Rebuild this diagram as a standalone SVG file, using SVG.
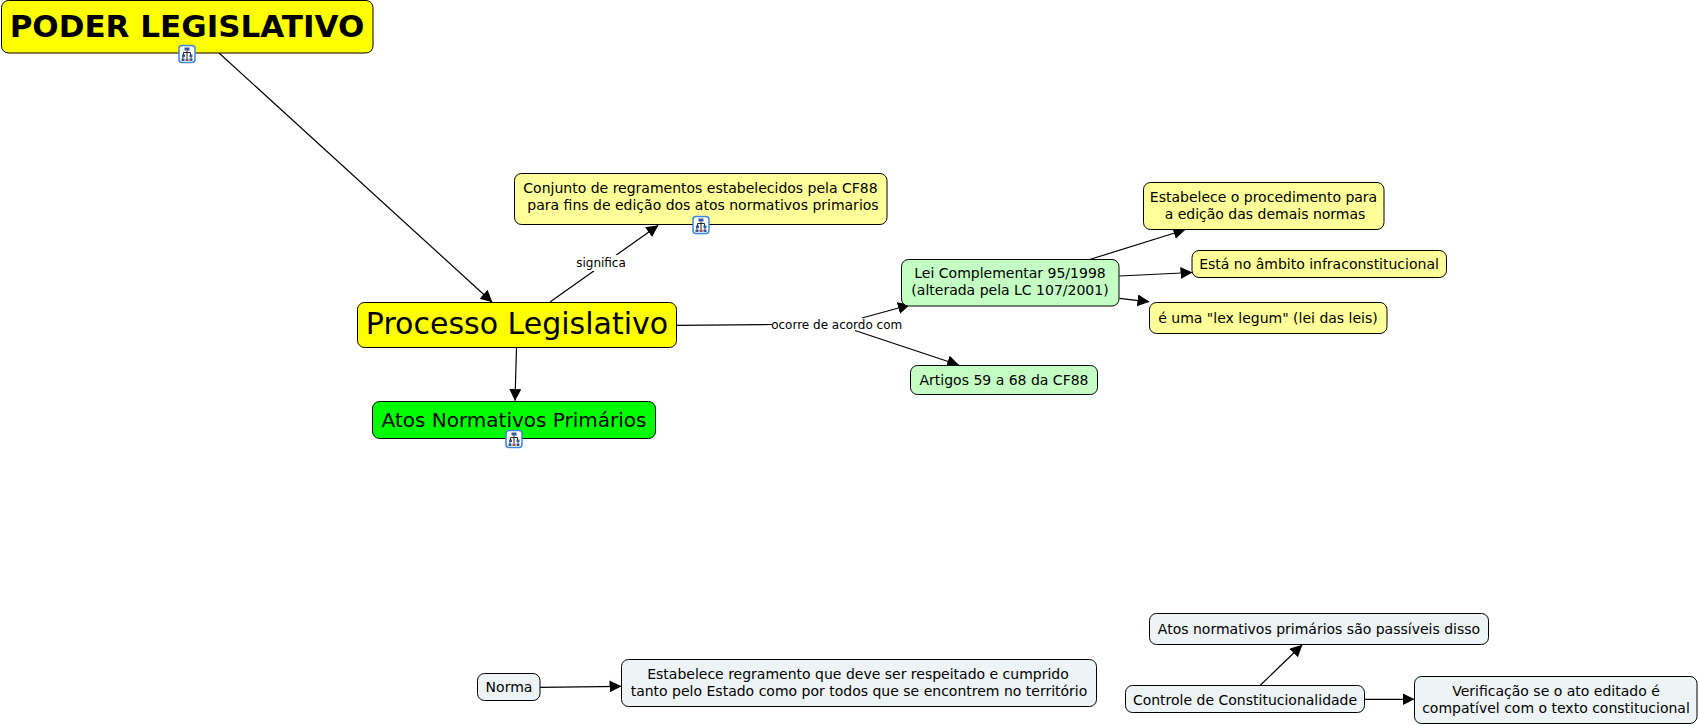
<svg xmlns="http://www.w3.org/2000/svg" xmlns:xlink="http://www.w3.org/1999/xlink" width="1699" height="726" viewBox="0 0 1699 726">
<style>
text{font-family:"DejaVu Sans",Verdana,sans-serif;fill:#000;text-anchor:middle}
.n{stroke:#000;stroke-width:1}
.t{font-size:14px}
.y{fill:#ffff99}.g{fill:#c4ffc4}.p{fill:#eef4f6}
.c line{stroke:#000;stroke-width:1.2;fill:none}
.a{marker-end:url(#arrow)}
.l{font-size:12px}
</style>
<defs>
<marker id="arrow" markerUnits="userSpaceOnUse" markerWidth="13" markerHeight="13" refX="11.5" refY="6" orient="auto"><path d="M0 0L12 6L0 12Z" fill="#000"/></marker>
<g id="icon">
<rect x="-8" y="-8.5" width="16" height="17" rx="3" fill="#fff" stroke="#3f86d8" stroke-width="1.5"/>
<path d="M0-3.5V-1.5M-3.5 1V-1.5H3.5V1M-4 3V4.5M0-1.5V4.5M4 3V4.5" fill="none" stroke="#223" stroke-width="1"/>
<rect x="-2.5" y="-6.5" width="5" height="3" fill="#335a9c"/>
<rect x="-5" y="0.5" width="3" height="2.5" fill="#335a9c"/>
<rect x="2.5" y="0.5" width="3" height="2.5" fill="#335a9c"/>
<rect x="-5.5" y="4.5" width="3" height="2.5" fill="#335a9c"/>
<rect x="-1.5" y="4.5" width="3" height="2.5" fill="#a05040"/>
<rect x="2.5" y="4.5" width="3" height="2.5" fill="#335a9c"/>
</g>
</defs>
<rect width="1699" height="726" fill="#fff"/>
<g id="connectors" class="c">
<line class="a" x1="219" y1="53" x2="492" y2="302"/>
<line class="a" x1="550" y1="302" x2="658" y2="225.5"/>
<line class="a" x1="516.5" y1="347.5" x2="515" y2="400.5"/>
<line x1="676.5" y1="325.3" x2="772" y2="324.5"/>
<line class="a" x1="862" y1="318" x2="909.5" y2="305"/>
<line class="a" x1="855" y1="330.5" x2="958.7" y2="365"/>
<line class="a" x1="1090.4" y1="259.3" x2="1185" y2="229.7"/>
<line class="a" x1="1119.4" y1="276" x2="1192" y2="272.5"/>
<line class="a" x1="1119.4" y1="298.3" x2="1149" y2="301.8"/>
<line class="a" x1="540" y1="687.3" x2="621" y2="686.3"/>
<line class="a" x1="1260.3" y1="685.3" x2="1302" y2="645"/>
<line class="a" x1="1364.7" y1="699.3" x2="1414" y2="699.3"/>
<rect x="576" y="255" width="50" height="16" fill="#fff"/>
<text class="l" x="601" y="267">significa</text>
<text class="l" x="836.7" y="328.5">ocorre de acordo com</text>
</g>
<g id="poder"><rect class="n" x="1.5" y="0.5" width="371.5" height="52.5" rx="7" fill="#ffff00"/><text x="187" y="36.5" font-size="31" font-weight="bold">PODER LEGISLATIVO</text><use xlink:href="#icon" href="#icon" x="187" y="54"/></g>
<g id="processo"><rect class="n" x="357.5" y="302.5" width="319" height="45" rx="7" fill="#ffff00"/><text x="517" y="334" font-size="30">Processo Legislativo</text></g>
<g id="atos"><rect class="n" x="372.5" y="401.5" width="283" height="37" rx="7" fill="#00ff00"/><text x="514" y="426.5" font-size="20">Atos Normativos Primários</text><use xlink:href="#icon" href="#icon" x="514" y="439"/></g>
<g id="conjunto"><rect class="n y" x="514.5" y="173.5" width="372.5" height="51" rx="7"/><text class="t" x="700.5" y="193">Conjunto de regramentos estabelecidos pela CF88</text><text class="t" x="703" y="210">para fins de edição dos atos normativos primarios</text><use xlink:href="#icon" href="#icon" x="701" y="225"/></g>
<g id="lei"><rect class="n g" x="901.5" y="259.5" width="217.5" height="46.5" rx="7"/><text class="t" x="1010" y="278">Lei Complementar 95/1998</text><text class="t" x="1010" y="295">(alterada pela LC 107/2001)</text></g>
<g id="artigos"><rect class="n g" x="910.5" y="365.5" width="187" height="29" rx="7"/><text class="t" x="1004" y="384.5">Artigos 59 a 68 da CF88</text></g>
<g id="procedimento"><rect class="n y" x="1143.5" y="182.5" width="240.5" height="47" rx="7"/><text class="t" x="1263.5" y="201.5">Estabelece o procedimento para</text><text class="t" x="1265" y="218.5">a edição das demais normas</text></g>
<g id="ambito"><rect class="n y" x="1192" y="250.5" width="254.5" height="27" rx="7"/><text class="t" x="1319" y="269">Está no âmbito infraconstitucional</text></g>
<g id="lex"><rect class="n y" x="1149.5" y="302.5" width="237.5" height="31" rx="7"/><text class="t" x="1268" y="323">é uma "lex legum" (lei das leis)</text></g>
<g id="norma"><rect class="n p" x="477.5" y="673.5" width="62.5" height="27" rx="7"/><text class="t" x="509" y="692">Norma</text></g>
<g id="regramento"><rect class="n p" x="621.5" y="659.5" width="475" height="47" rx="7"/><text class="t" x="858" y="678.5">Estabelece regramento que deve ser respeitado e cumprido</text><text class="t" x="859" y="695.5">tanto pelo Estado como por todos que se encontrem no território</text></g>
<g id="passiveis"><rect class="n p" x="1149.5" y="613.5" width="339" height="31" rx="7"/><text class="t" x="1319" y="634">Atos normativos primários são passíveis disso</text></g>
<g id="controle"><rect class="n p" x="1125.5" y="685.5" width="239" height="27" rx="7"/><text class="t" x="1245" y="704.5">Controle de Constitucionalidade</text></g>
<g id="verificacao"><rect class="n p" x="1414.5" y="676.5" width="282.5" height="47" rx="7"/><text class="t" x="1556" y="695.5">Verificação se o ato editado é</text><text class="t" x="1556" y="712.5">compatível com o texto constitucional</text></g>
</svg>
